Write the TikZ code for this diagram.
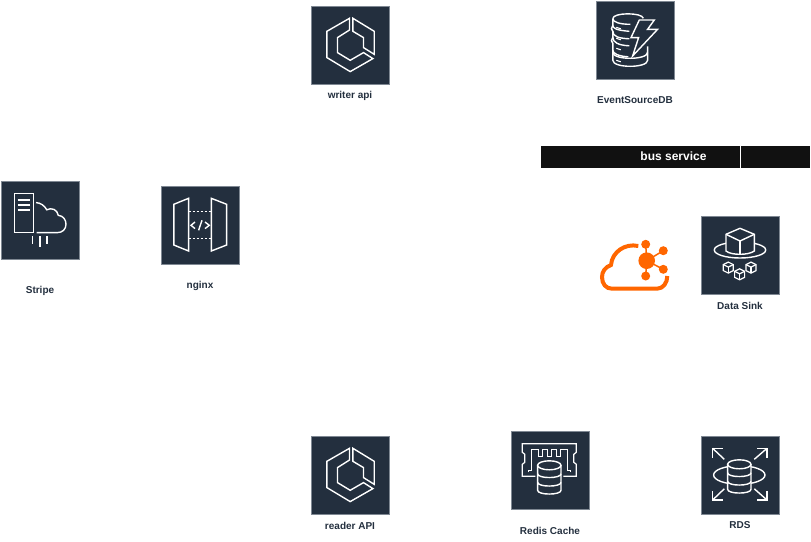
\documentclass[tikz,border=0pt]{standalone}
\usepackage{fontspec}
\setmainfont{Liberation Sans}
\definecolor{boxnavy}{HTML}{232F3E}
\definecolor{boxedge}{HTML}{7F8893}
\definecolor{busblack}{HTML}{111111}
\definecolor{hubfire}{HTML}{FF6600}
\tikzset{
  awsbox/.style={fill=boxnavy,draw=boxedge,line width=0.5pt,minimum size=77.5pt,inner sep=0pt},
  boxlabel/.style={text=boxnavy,font=\fontsize{10}{12}\selectfont\bfseries,inner sep=0pt},
  buscell/.style={fill=busblack,draw=none,minimum height=22pt,inner sep=0pt},
  glyph/.style={draw=white,line width=1.4pt,line join=miter},
  dbcyl/.pic={
    \draw[glyph,fill=boxnavy] (-11.7,0) -- (-11.7,25) .. controls (-11.7,30) and (11.7,30) .. (11.7,25) -- (11.7,0);
    \draw[glyph,fill=boxnavy] (0,0) ellipse (11.7pt and 4.5pt);
    \draw[glyph] (-11.7,8.5) .. controls (-11.7,13.5) and (11.7,13.5) .. (11.7,8.5);
    \draw[glyph] (-11.7,17) .. controls (-11.7,22) and (11.7,22) .. (11.7,17);
  },
  ecsicon/.pic={
    \draw[glyph] (38.3,12) -- (15.7,25) -- (15.7,51.3) -- (39,65.3) -- (61.7,52.3) -- (52.3,46.3) -- (39,54) -- (26.3,46.3) -- (26.3,31.3) -- (38.3,23.7) -- cycle;
    \draw[glyph] (41.7,12) -- (63,25) -- (63,48) -- (52.3,41.3) -- (52.3,31.3) -- (41.7,25) -- cycle;
  },
  eventicon/.pic={
    \draw[glyph] (16.5,17.3) .. controls (16.5,11) and (46,11) .. (47,17);
    \draw[glyph] (16.5,17.3) .. controls (16.5,21) and (24,23) .. (34,23);
    \draw[glyph] (16.5,17.3) -- (16.5,24) .. controls (16.5,27) and (20,29) .. (33,30);
    \draw[glyph] (16.5,24) .. controls (14.5,26) and (15,29) .. (16.5,30) .. controls (16.5,35) and (22,37) .. (33,37.5);
    \draw[glyph] (16.5,30) -- (16.5,36) .. controls (16.5,41) and (22,44) .. (33,44.5);
    \draw[glyph] (16.5,36) .. controls (14.5,38) and (15,41) .. (16.5,42) -- (16.5,49) .. controls (16.5,52) and (22,55) .. (32,55.5);
    \draw[glyph] (16.5,49) -- (16.5,59) .. controls (16.5,67) and (51.3,67) .. (51.3,59) -- (51.3,45);
    \draw[glyph] (16.5,51) .. controls (16.5,59) and (51.3,59) .. (51.3,51);
    \draw[glyph,line width=1.1pt] (20,26) -- (24.5,27.5);
    \draw[glyph,line width=1.1pt] (20,37) -- (24.5,38.5);
    \draw[glyph,line width=1.1pt] (20,47) -- (24.5,48.5);
    \draw[glyph,line width=1.1pt] (20,59) -- (24.5,60.5);
    \draw[glyph,fill=boxnavy] (43,18.7) -- (58,18.7) -- (51.3,28) -- (61.3,28) -- (36.3,54.7) -- (42.3,36.3) -- (34.7,36.3) -- cycle;
  },
  stripeicon/.pic={
    \draw[glyph] (13,12) rectangle (32.3,51.3);
    \draw[glyph] (16.3,18.7) -- (28.7,18.7);
    \draw[glyph] (16.3,23.7) -- (28.7,23.7);
    \draw[glyph] (16.3,28.7) -- (28.7,28.7);
    \draw[glyph] (34.7,21.3) .. controls (39,21.5) and (43,24) .. (45.5,28.5) .. controls (50,26) and (56,28) .. (57,34) .. controls (62,34.5) and (64.7,38.5) .. (64.7,43) .. controls (64.7,48) and (61,51.3) .. (56.3,51.3) -- (35.3,51.3);
    \draw[glyph] (31.3,55) -- (31.3,63);
    \draw[glyph] (38.7,55) -- (38.7,66);
    \draw[glyph] (45.7,55) -- (45.7,63);
  },
  nginxicon/.pic={
    \draw[glyph] (27.3,12) -- (12.5,18) -- (12.5,58.7) -- (27.3,64.7) -- cycle;
    \draw[glyph] (50,12) -- (65.3,18) -- (65.3,58.7) -- (50,64.7) -- cycle;
    \draw[glyph,dash pattern=on 2.5pt off 1.5pt] (27.3,25.3) -- (50,25.3);
    \draw[glyph,dash pattern=on 2.5pt off 1.5pt] (27.3,52.3) -- (50,52.3);
    \draw[glyph] (33.7,35.7) -- (29.7,39) -- (33.7,42.3);
    \draw[glyph] (37.3,44) -- (40.7,34);
    \draw[glyph] (43.7,35.7) -- (48,39) -- (43.7,42.3);
  },
  minicube/.pic={
    \draw[glyph,line width=1.2pt,fill=boxnavy] (0,-5.5) -- (5,-3) -- (5,3) -- (0,5.5) -- (-5,3) -- (-5,-3) -- cycle;
    \draw[glyph,line width=1.2pt] (-5,-3) -- (0,-0.5) -- (5,-3);
    \draw[glyph,line width=1.2pt] (0,-0.5) -- (0,5.5);
  },
  sinkicon/.pic={
    \draw[glyph] (38.7,33.7) ellipse (25.7pt and 8pt);
    \draw[glyph,fill=boxnavy] (38.7,12) -- (53,18) -- (53,34.7) .. controls (50,37) and (44,38) .. (38.7,38) .. controls (33,38) and (27.5,37) .. (24.7,34.7) -- (24.7,18) -- cycle;
    \draw[glyph] (24.7,18) -- (38.7,24.7) -- (53,18);
    \draw[glyph] (38.7,24.7) -- (38.7,38);
    \pic at (27,51.3) {minicube};
    \pic at (49.7,51.3) {minicube};
    \pic at (38.3,58) {minicube};
  },
  redisicon/.pic={
    \draw[glyph,line width=1.2pt] (24,45) -- (11,45) -- (11,33) -- (13.5,31) -- (13.5,23) -- (11,21) -- (11,12.5) -- (65,12.5) -- (65,21) -- (62.5,23) -- (62.5,31) -- (65,33) -- (65,45) -- (52,45);
    \draw[glyph,line width=1.2pt] (17,41) -- (17,39.5) -- (20.5,39.5) -- (20.5,18) -- (27,18) -- (27,25) -- (31,25) -- (31,18) -- (36,18) -- (36,25) -- (40,25) -- (40,18) -- (45,18) -- (45,25) -- (49,25) -- (49,18) -- (56,18) -- (56,39.5) -- (59,39.5) -- (59,41);
    \pic at (38,34) {dbcyl};
  },
  rdsicon/.pic={
    \draw[glyph] (38,38.7) ellipse (25.7pt and 9.3pt);
    \pic at (38,28) {dbcyl};
    \draw[glyph] (11.3,21.3) -- (11.3,12) -- (21.3,12);
    \draw[glyph] (11.3,12) -- (23,23);
    \draw[glyph] (65.7,21.3) -- (65.7,12) -- (55.7,12);
    \draw[glyph] (65.7,12) -- (53,23);
    \draw[glyph] (11.3,54.5) -- (11.3,63.7) -- (21.3,63.7);
    \draw[glyph] (11.3,63.7) -- (23,52.5);
    \draw[glyph] (65.7,54.5) -- (65.7,63.7) -- (55.7,63.7);
    \draw[glyph] (65.7,63.7) -- (53,52.5);
  }
}
\begin{document}
\begin{tikzpicture}[x=1pt,y=-1pt]
  \useasboundingbox (0,0) rectangle (811,541);
  \node[awsbox] (writer) at (350.2,45.3) {};
  \pic at (writer.north west) {ecsicon};
  \node[boxlabel] (writerlabel) at (350,95.5) {writer api};
  \node[awsbox] (eventdb) at (635.3,40.3) {};
  \pic at (eventdb.north west) {eventicon};
  \node[boxlabel] (eventlabel) at (635,100.5) {EventSourceDB};
  \node[awsbox] (stripe) at (40.3,220.3) {};
  \pic at (stripe.north west) {stripeicon};
  \node[boxlabel] (stripelabel) at (40,290.5) {Stripe};
  \node[awsbox] (nginx) at (200.3,225.3) {};
  \pic at (nginx.north west) {nginxicon};
  \node[boxlabel] (nginxlabel) at (200,285.5) {nginx};
  \node[awsbox] (sink) at (740.3,255.3) {};
  \pic at (sink.north west) {sinkicon};
  \node[boxlabel] (sinklabel) at (740,305.5) {Data Sink};
  \node[awsbox] (reader) at (350.2,475.3) {};
  \pic at (reader.north west) {ecsicon};
  \node[boxlabel] (readerlabel) at (350,525.5) {reader API};
  \node[awsbox] (redis) at (550.3,470.3) {};
  \pic at (redis.north west) {redisicon};
  \node[boxlabel] (redislabel) at (550,530.5) {Redis Cache};
  \node[awsbox] (rds) at (740.3,475.3) {};
  \pic at (rds.north west) {rdsicon};
  \node[boxlabel] (rdslabel) at (740,525.5) {RDS};
  \node[buscell,minimum width=199pt] (busleft) at (640.5,157) {};
  \node[buscell,minimum width=69pt] (busright) at (775.5,157) {};
  \node[text=white,inner sep=0pt,font=\fontsize{12}{14}\selectfont\bfseries] (buslabel) at (673.5,156) {bus service};
  \draw[hubfire,line width=4pt] (638.3,246) .. controls (625,243) and (612,252) .. (611,265) .. controls (605,267) and (602,272) .. (602,277) .. controls (602,284) and (606,288.7) .. (612,288.7) -- (657,288.7) .. controls (663,288.7) and (667.3,283) .. (667.3,276);
  \fill[white] (646.7,260.7) circle (10.5pt);
  \fill[hubfire] (646.7,260.7) circle (8.3pt);
  \fill[hubfire] (645.7,244.3) circle (4.5pt);
  \fill[hubfire] (663.3,250.7) circle (4.5pt);
  \fill[hubfire] (663.3,269.3) circle (4.5pt);
  \fill[hubfire] (645.7,276) circle (4.5pt);
  \draw[hubfire,line width=1.5pt] (645.7,244.3) -- (646.7,260.7);
  \draw[hubfire,line width=1.5pt] (663.3,250.7) -- (646.7,260.7);
  \draw[hubfire,line width=1.5pt] (663.3,269.3) -- (646.7,260.7);
  \draw[hubfire,line width=1.5pt] (645.7,276) -- (646.7,260.7);
\end{tikzpicture}
\end{document}
